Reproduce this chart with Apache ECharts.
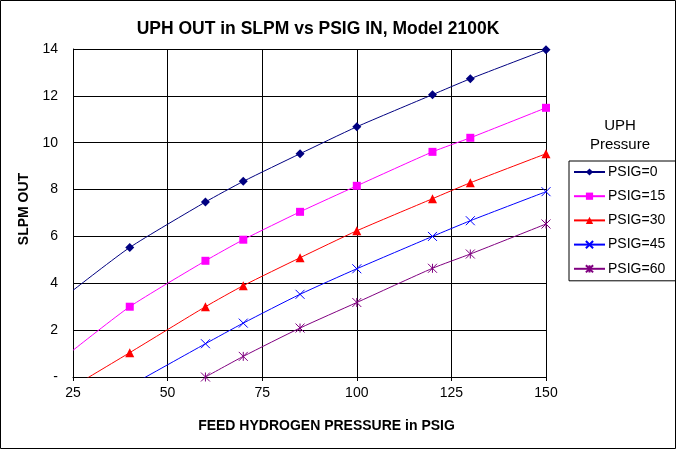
<!DOCTYPE html>
<html>
<head>
<meta charset="utf-8">
<script src="https://cdn.jsdelivr.net/npm/echarts@6/dist/echarts.min.js"></script>
<style>
  html, body { margin: 0; padding: 0; background: #fff; }
  #chart { width: 676px; height: 449px; }
</style>
</head>
<body>
<div id="chart"></div>
<script>
// feed pressure (PSIG) – first point only extends the curve, no marker
const feedPsig = [25, 40, 60, 70, 85, 100, 120, 130, 150]
const markedPsig = [40, 60, 70, 85, 100, 120, 130, 150]

const psig0 = [3.70, 5.53, 7.47, 8.35, 9.53, 10.68, 12.05, 12.73, 13.97]
const psig15 = [1.14, 3.00, 4.96, 5.86, 7.05, 8.16, 9.61, 10.21, 11.49]
const psig30 = [-0.41, 1.04, 3.00, 3.90, 5.09, 6.24, 7.61, 8.29, 9.53]
const psig45 = [-1.73, -0.38, 1.42, 2.30, 3.53, 4.62, 6.00, 6.67, 7.91]
const psig60 = [null, null, 0.00, 0.88, 2.09, 3.18, 4.64, 5.25, 6.53]

const seriesNames = ['PSIG=0', 'PSIG=15', 'PSIG=30', 'PSIG=45', 'PSIG=60']
const yTicks = [0, 2, 4, 6, 8, 10, 12, 14]

const FONT = 'Arial, "Liberation Sans", sans-serif'

const styles = [
    { color: '#000080', symbol: 'diamond', size: 9 },
    { color: '#FF00FF', symbol: 'rect', size: 8 },
    { color: '#FF0000', symbol: 'triangle', size: 9 },
    { color: '#0000FF', symbol: 'path://M0,0L10,10M10,0L0,10', size: 9 },
    { color: '#800080', symbol: 'path://M0,0L10,10M10,0L0,10M5,0L5,10', size: 9 },
]

function buildData(values) {
    let out = []
    for (let i = 0; i < feedPsig.length; ++i) {
        if (values[i] === null) continue
        let item = { value: [feedPsig[i], values[i]] }
        if (markedPsig.indexOf(feedPsig[i]) < 0 || values[i] < 0) {
            item.symbol = 'none'
        }
        out.push(item)
    }
    return out
}

const allValues = [psig0, psig15, psig30, psig45, psig60]

let chart = echarts.init(document.getElementById('chart'), null, { renderer: 'canvas' })

let options = {
    backgroundColor: '#fff',
    animation: false,
    title: {
        text: 'UPH OUT in SLPM vs PSIG IN, Model 2100K',
        left: 313,
        top: 15,
        textAlign: 'center',
        textStyle: { fontFamily: FONT, fontSize: 17.5, fontWeight: 'bold', color: '#000' },
    },
    grid: { left: 73, right: 130, top: 49, bottom: 72, show: false },
    legend: {
        orient: 'vertical',
        left: 569,
        top: 161,
        padding: [4, 15, 5, 4],
        itemWidth: 31,
        itemHeight: 9,
        itemGap: 10.2,
        borderColor: '#000',
        borderWidth: 1,
        textStyle: { fontFamily: FONT, fontSize: 14, color: '#000', padding: [0, 0, 0, -2] },
        data: seriesNames,
    },
    xAxis: {
        type: 'value',
        min: 25,
        max: 150,
        interval: 25,
        name: 'FEED HYDROGEN PRESSURE in PSIG',
        nameLocation: 'middle',
        nameGap: 42,
        nameTextStyle: { fontFamily: FONT, fontSize: 14, fontWeight: 'bold', color: '#000', padding: [0, 0, 0, 34] },
        axisLine: { lineStyle: { color: '#000', width: 1 } },
        axisTick: { show: true, length: 4, lineStyle: { color: '#000' } },
        axisLabel: { fontFamily: FONT, fontSize: 14, color: '#000', margin: 9 },
        splitLine: { show: true, lineStyle: { color: '#000', width: 1 } },
    },
    yAxis: {
        type: 'value',
        min: yTicks[0],
        max: yTicks[yTicks.length - 1],
        interval: 2,
        name: 'SLPM OUT',
        nameLocation: 'middle',
        nameGap: 42,
        nameTextStyle: { fontFamily: FONT, fontSize: 14, fontWeight: 'bold', color: '#000', padding: [0, 0, 0, 8] },
        axisLine: { show: true, lineStyle: { color: '#000', width: 1 } },
        axisTick: { show: false },
        axisLabel: {
            fontFamily: FONT, fontSize: 14, color: '#000', margin: 15,
            formatter: (v) => v === 0 ? '-' : String(v),
        },
        splitLine: { show: true, lineStyle: { color: '#000', width: 1 } },
    },
    graphic: [
        {
            type: 'rect',
            shape: { x: 0.5, y: 0.5, width: 675, height: 448 },
            style: { fill: 'none', stroke: '#000', lineWidth: 1 },
            silent: true,
        },
        {
            type: 'text',
            x: 620,
            y: 116,
            style: {
                text: 'UPH\nPressure',
                fontFamily: FONT,
                fontSize: 15,
                lineHeight: 19,
                fill: '#000',
                align: 'center',
            },
        },
    ],
}

options.series = seriesNames.map((name, idx) => ({
    name: name,
    type: 'line',
    data: buildData(allValues[idx]),
    smooth: 0.2,
    clip: true,
    symbol: styles[idx].symbol,
    symbolSize: styles[idx].size,
    showAllSymbol: true,
    lineStyle: { color: styles[idx].color, width: 1 },
    itemStyle: { color: styles[idx].color, borderColor: styles[idx].color, borderWidth: idx >= 3 ? 1 : 0 },
    emphasis: { disabled: true },
}))

chart.setOption(options)
</script>
</body>
</html>
